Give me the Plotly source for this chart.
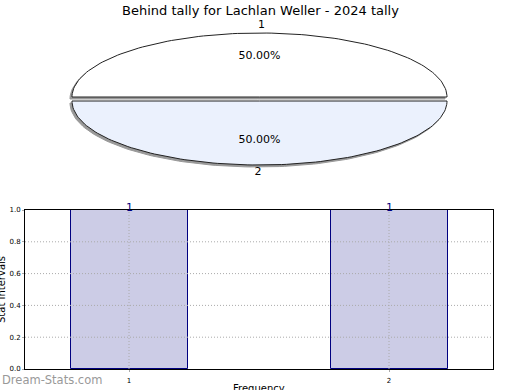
import numpy as np
import plotly.graph_objects as go

# ---- data ----
pie_labels = ["1", "2"]
pie_values = [1, 1]
bar_categories = [1, 2]
bar_values = [1, 1]
bar_text = ["1", "1"]
y_ticks = [0.0, 0.2, 0.4, 0.6, 0.8, 1.0]
title = "Behind tally for Lachlan Weller - 2024 tally"

W, H = 520, 390
FONT = "DejaVu Sans"

# ---- pie geometry (pixel space styling) ----
cx, cy, rx, ry = 259.5, 99.0, 187.5, 64.0
explode = 2.0
shadow_dx, shadow_dy = -2.0, 2.0
slice_colors = ["#FFFFFF", "#EBF1FD"]

fig = go.Figure()

total = float(sum(pie_values))
fracs = [v / total for v in pie_values]
start = 0.0
slices = []
for lab, f, col in zip(pie_labels, fracs, slice_colors):
    a0 = start * 2 * np.pi
    a1 = (start + f) * 2 * np.pi
    mid = (a0 + a1) / 2
    ox = explode * np.cos(mid)
    oy = -explode * np.sin(mid)
    t = np.linspace(a0, a1, 120)
    xs = np.concatenate([[cx], cx + rx * np.cos(t), [cx]]) + ox
    ys = np.concatenate([[cy], cy - ry * np.sin(t), [cy]]) + oy
    slices.append((lab, f, col, mid, xs, ys, ox, oy))
    start += f

for lab, f, col, mid, xs, ys, ox, oy in slices:
    fig.add_trace(go.Scatter(x=xs + shadow_dx, y=ys + shadow_dy, mode="lines",
                             fill="toself", fillcolor="#999999",
                             line=dict(color="#999999", width=1),
                             xaxis="x2", yaxis="y2", hoverinfo="skip", showlegend=False))
for lab, f, col, mid, xs, ys, ox, oy in slices:
    fig.add_trace(go.Scatter(x=xs, y=ys, mode="lines", fill="toself", fillcolor=col,
                             line=dict(color="#222222", width=1),
                             xaxis="x2", yaxis="y2", hoverinfo="skip", showlegend=False))
    fig.add_trace(go.Scatter(x=[cx + 0.64 * rx * np.cos(mid) + ox],
                             y=[cy - 0.64 * ry * np.sin(mid) + oy + (0 if np.sin(mid) > 0 else -2)],
                             mode="text", text=[f"{f*100:.2f}%"],
                             textfont=dict(family=FONT, size=11, color="#000000"),
                             xaxis="x2", yaxis="y2", hoverinfo="skip", showlegend=False))
    fig.add_trace(go.Scatter(x=[cx + 1.1 * rx * np.cos(mid) + ox + (2 if np.sin(mid) > 0 else -1.5)],
                             y=[cy - 1.1 * ry * np.sin(mid) + oy + (-1 if np.sin(mid) > 0 else 1)],
                             mode="text", text=[lab],
                             textfont=dict(family=FONT, size=11, color="#000000"),
                             xaxis="x2", yaxis="y2", hoverinfo="skip", showlegend=False))

# ---- bars ----
fig.add_trace(go.Bar(x=bar_categories, y=bar_values, width=0.45,
                     marker=dict(color="#CCCCE6", line=dict(color="#000080", width=1)),
                     showlegend=False, hoverinfo="skip"))
for c, v, tx in zip(bar_categories, bar_values, bar_text):
    fig.add_annotation(x=c, y=v, xref="x", yref="y", text=tx, showarrow=False,
                       yanchor="middle", yshift=3,
                       font=dict(family=FONT, size=11, color="#000080"))

GRID = dict(color="#AAAAAA", width=1, dash="1px,2px")
for v in y_ticks[1:-1]:
    fig.add_shape(type="line", xref="x domain", yref="y", x0=0, x1=1, y0=v, y1=v,
                  line=GRID, layer="above")
for c in bar_categories:
    fig.add_shape(type="line", xref="x", yref="y domain", x0=c, x1=c, y0=0, y1=1,
                  line=GRID, layer="above")

AX = dict(showgrid=False, showline=True, linecolor="#000000", linewidth=1, mirror=True,
          ticks="outside", ticklen=2, tickcolor="#AAAAAA", automargin=False,
          tickfont=dict(size=7, family=FONT, color="#000000"), zeroline=False, fixedrange=True)

fig.update_layout(
    width=W, height=H, margin=dict(l=0, r=0, t=0, b=0, pad=0, autoexpand=False),
    paper_bgcolor="white", plot_bgcolor="rgba(0,0,0,0)",
    font=dict(family=FONT, size=8, color="#000000"),
    xaxis=dict(domain=[25 / W, 493 / W], range=[0.6, 2.4], tickmode="array",
               tickvals=bar_categories, ticktext=[str(c) for c in bar_categories],
               ticklabelstandoff=3, **AX),
    yaxis=dict(domain=[(H - 369) / H, (H - 210) / H], range=[0, 1], tickmode="array",
               tickvals=y_ticks, ticktext=[f"{v:.1f}" for v in y_ticks], **AX),
    xaxis2=dict(domain=[0, 1], range=[0, W], visible=False, fixedrange=True, automargin=False),
    yaxis2=dict(domain=[0, 1], range=[H, 0], visible=False, fixedrange=True, automargin=False),
    bargap=0,
)

fig.add_annotation(text=title, x=0.5, y=1 - 10 / H, xref="paper", yref="paper",
                   showarrow=False, font=dict(family=FONT, size=13, color="#000000"),
                   xanchor="center", yanchor="middle")
fig.add_annotation(text="Stat Intervals", x=1 / W, y=(H - 290) / H, xref="paper", yref="paper",
                   showarrow=False, textangle=-90, font=dict(family=FONT, size=10, color="#000000"),
                   xanchor="center", yanchor="middle")
fig.add_annotation(text="Frequency", x=259 / W, y=(H - 388) / H, xref="paper", yref="paper",
                   showarrow=False, font=dict(family=FONT, size=10, color="#000000"),
                   xanchor="center", yanchor="middle")
fig.add_annotation(text="Dream-Stats.com", x=0, y=(H - 380) / H, xref="paper", yref="paper",
                   showarrow=False, font=dict(family=FONT, size=11.5, color="#999999"),
                   xanchor="left", yanchor="middle")

fig.write_html("out.html", config={"displayModeBar": False},
               post_script="document.body.style.margin='0';document.body.style.overflow='hidden';")
